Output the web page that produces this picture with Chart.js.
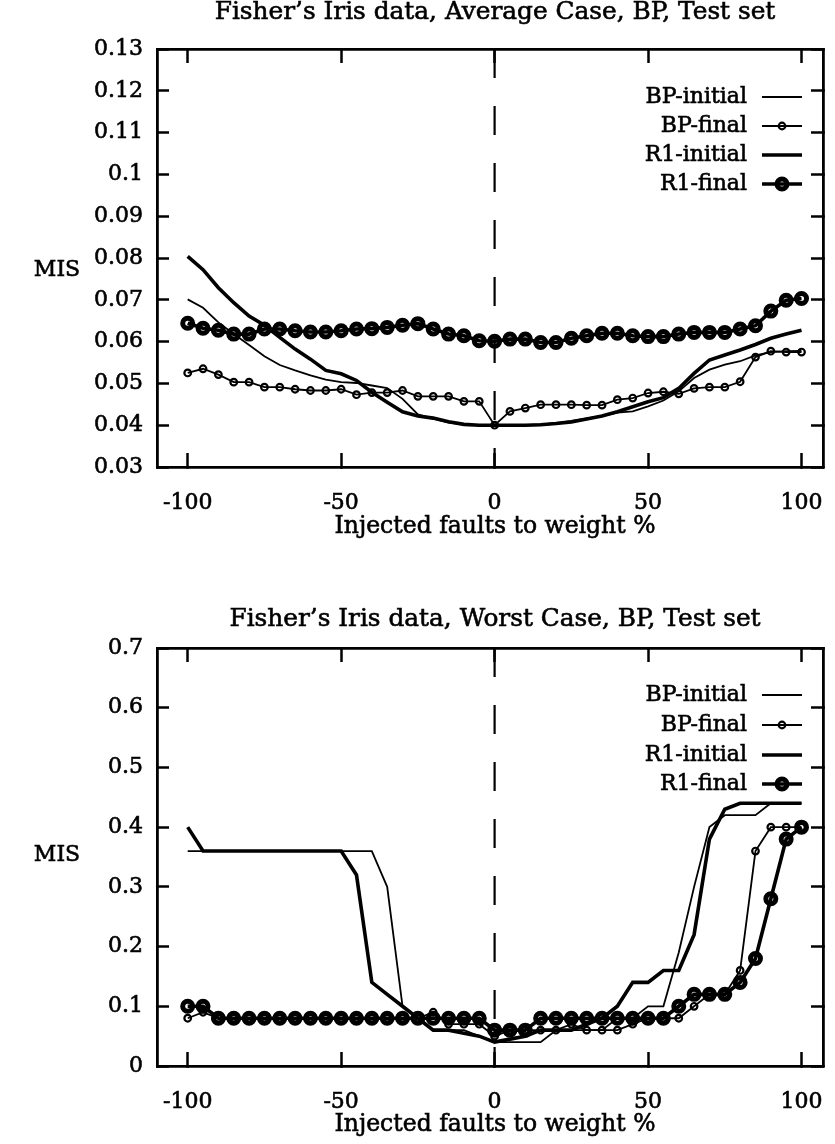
<!DOCTYPE html>
<html><head><meta charset="utf-8">
<script src="https://cdn.jsdelivr.net/npm/chart.js@4.4.1/dist/chart.umd.min.js"></script>
<style>
html,body{margin:0;padding:0;background:#fff;}
#wrap{position:relative;width:835px;height:1144px;overflow:hidden;}
canvas{position:absolute;left:0;}
</style></head><body>
<div id="wrap">
<canvas id="c1" width="835" height="572" style="top:0px"></canvas>
<canvas id="c2" width="835" height="572" style="top:572px"></canvas>
</div>
<script>
// ---------- data ----------
const faults = [-100,-95,-90,-85,-80,-75,-70,-65,-60,-55,-50,-45,-40,-35,-30,-25,-20,-15,-10,-5,0,5,10,15,20,25,30,35,40,45,50,55,60,65,70,75,80,85,90,95,100];
const xTickValues = [-100,-50,0,50,100];
const xTickLabels = ['-100','-50','0','50','100'];
const avgYTickLabels = ['0.03','0.04','0.05','0.06','0.07','0.08','0.09','0.1','0.11','0.12','0.13'];
const worstYTickLabels = ['0','0.1','0.2','0.3','0.4','0.5','0.6','0.7'];
const seriesNames = ['BP-initial','BP-final','R1-initial','R1-final'];
const titles = ["Fisher\u2019s Iris data, Average Case, BP, Test set","Fisher\u2019s Iris data, Worst Case, BP, Test set"];
const xAxisTitle = 'Injected faults to weight %';
const yAxisTitle = 'MIS';

const avgBPinitial = [0.0701,0.0681,0.0646,0.0618,0.0592,0.0565,0.0544,0.0531,0.0519,0.0509,0.0503,0.0501,0.0495,0.0489,0.0463,0.0426,0.0416,0.0406,0.0402,0.0400,0.0400,
  0.0400,0.0400,0.0402,0.0405,0.0410,0.0416,0.0422,0.0430,0.0433,0.0445,0.0459,0.0481,0.0513,0.0533,0.0545,0.0553,0.0567,0.0575,0.0577,0.0578];
const avgBPfinal = [0.0525,0.0535,0.0521,0.0503,0.0503,0.0491,0.0491,0.0486,0.0483,0.0483,0.0486,0.0473,0.0478,0.0478,0.0483,0.0469,0.0469,0.0469,0.0457,0.0457,0.0400,
  0.0433,0.0441,0.0449,0.0449,0.0449,0.0448,0.0448,0.0461,0.0465,0.0477,0.0480,0.0475,0.0488,0.0491,0.0491,0.0504,0.0563,0.0577,0.0575,0.0575];
const avgR1initial = [0.0804,0.0772,0.0729,0.0693,0.0661,0.0639,0.0610,0.0582,0.0558,0.0531,0.0523,0.0507,0.0479,0.0455,0.0432,0.0422,0.0417,0.0408,0.0402,0.0400,0.0400,
  0.0400,0.0400,0.0401,0.0404,0.0408,0.0415,0.0422,0.0432,0.0444,0.0456,0.0466,0.0488,0.0524,0.0556,0.0568,0.0580,0.0593,0.0608,0.0618,0.0627];
const avgR1final = [0.0644,0.0632,0.0627,0.0618,0.0618,0.0630,0.0630,0.0626,0.0623,0.0623,0.0626,0.0630,0.0631,0.0634,0.0639,0.0643,0.0630,0.0618,0.0614,0.0602,0.0601,
  0.0606,0.0606,0.0598,0.0598,0.0608,0.0614,0.0620,0.0620,0.0614,0.0612,0.0612,0.0618,0.0622,0.0622,0.0622,0.0630,0.0638,0.0673,0.0699,0.0703];

const worstBPinitial = [0.36,0.36,0.36,0.36,0.36,0.36,0.36,0.36,0.36,0.36,0.36,0.36,0.36,0.30,0.10,0.08,0.06,0.06,0.06,0.05,0.04,
  0.04,0.04,0.04,0.06,0.06,0.06,0.06,0.08,0.08,0.10,0.10,0.19,0.30,0.40,0.42,0.42,0.42,0.44,0.44,0.44];
const worstBPfinal = [0.08,0.09,0.08,0.08,0.08,0.08,0.08,0.08,0.08,0.08,0.08,0.08,0.08,0.08,0.08,0.08,0.09,0.07,0.07,0.07,0.05,
  0.06,0.06,0.06,0.06,0.07,0.06,0.06,0.06,0.07,0.08,0.08,0.08,0.10,0.12,0.12,0.16,0.36,0.40,0.40,0.40];
const worstR1initial = [0.40,0.36,0.36,0.36,0.36,0.36,0.36,0.36,0.36,0.36,0.36,0.32,0.14,0.12,0.10,0.08,0.06,0.06,0.055,0.05,0.04,
  0.045,0.05,0.06,0.06,0.06,0.07,0.08,0.10,0.14,0.14,0.16,0.16,0.22,0.38,0.43,0.44,0.44,0.44,0.44,0.44];
const worstR1final = [0.10,0.10,0.08,0.08,0.08,0.08,0.08,0.08,0.08,0.08,0.08,0.08,0.08,0.08,0.08,0.08,0.08,0.08,0.08,0.08,0.06,
  0.06,0.06,0.08,0.08,0.08,0.08,0.08,0.08,0.08,0.08,0.08,0.10,0.12,0.12,0.12,0.14,0.18,0.28,0.38,0.40];

// ---------- styling ----------
const FAMILY = '"DejaVu Serif", "Liberation Serif", serif';
const FONT = {family: FAMILY, size: 22};
const fontStr = '22px ' + FAMILY;
const titleFontStr = '24.8px ' + FAMILY;
const axisTitleFontStr = '23.5px ' + FAMILY;
const TEXT_STROKE = 0.6;

const styles = [
  {borderWidth: 1.8, pointRadius: 0},
  {borderWidth: 1.8, pointRadius: 3.3, pointBorderWidth: 2.2},
  {borderWidth: 3.6, pointRadius: 0},
  {borderWidth: 3.6, pointRadius: 5, pointBorderWidth: 5}
];

function txt(ctx, s, x, y) {
  ctx.fillText(s, x, y);
  ctx.lineWidth = TEXT_STROKE;
  ctx.strokeText(s, x, y);
}

const annotPlugin = {
  id: 'annot',
  afterDraw(chart, args, o) {
    const ctx = chart.ctx;
    ctx.save();
    ctx.fillStyle = '#000';
    ctx.strokeStyle = '#000';
    ctx.textBaseline = 'middle';
    ctx.textAlign = 'center';
    ctx.font = titleFontStr;
    txt(ctx, o.title, o.titleX, o.titleY);
    ctx.font = axisTitleFontStr;
    txt(ctx, xAxisTitle, o.titleX, o.xTitleY);
    ctx.font = fontStr;
    txt(ctx, yAxisTitle, o.misX, o.misY);
    const dsList = chart.data.datasets.filter(d => d.inLegend);
    dsList.forEach((d, i) => {
      const y = o.legendY[i];
      ctx.textAlign = 'right';
      txt(ctx, d.label, o.legendTextRight, y);
      ctx.beginPath();
      ctx.lineWidth = d.borderWidth;
      ctx.moveTo(o.legendLine[0], y);
      ctx.lineTo(o.legendLine[1], y);
      ctx.stroke();
      if (d.pointRadius > 0) {
        ctx.beginPath();
        ctx.lineWidth = d.pointBorderWidth;
        ctx.arc(o.legendLine[2], y, d.pointRadius, 0, Math.PI * 2);
        ctx.stroke();
      }
    });
    ctx.restore();
  }
};

function makeChart(id, seriesArrays, yLabels, cfg) {
  const yVals = yLabels.map(Number);
  const yMin = yVals[0], yMax = yVals[yVals.length - 1];
  const datasets = seriesArrays.map((arr, i) => Object.assign({
    label: seriesNames[i],
    inLegend: true,
    data: faults.map((x, k) => ({x: x, y: arr[k]})),
    borderColor: '#000',
    pointBorderColor: '#000',
    pointBackgroundColor: 'rgba(0,0,0,0)',
    tension: 0,
    fill: false,
    order: 1
  }, styles[i]));
  datasets.push({
    label: 'zero',
    inLegend: false,
    data: [{x: 0, y: yMax}, {x: 0, y: yMin}],
    borderColor: '#000',
    borderWidth: 2.2,
    borderDash: [29, 28],
    pointRadius: 0,
    order: 2
  });
  const yTickCb = v => {
    const idx = yVals.findIndex(t => Math.abs(t - v) < 1e-9);
    return idx >= 0 ? yLabels[idx] : '';
  };
  const xTickCb = v => {
    const idx = xTickValues.indexOf(v);
    return idx >= 0 ? xTickLabels[idx] : '';
  };
  const zeroPadH = s => { s.paddingLeft = 0; s.paddingRight = 0; };
  const zeroPadV = s => { s.paddingTop = 0; s.paddingBottom = 0; };
  const gridX = {drawOnChartArea: false, tickLength: -14, tickWidth: 2.5, tickColor: '#000'};
  const gridY = {drawOnChartArea: false, tickLength: -12, tickWidth: 2.5, tickColor: '#000'};
  const border = {display: true, color: '#000', width: 2.8};
  const tickText = {font: FONT, color: '#000', textStrokeColor: '#000', textStrokeWidth: TEXT_STROKE, autoSkip: false};
  return new Chart(document.getElementById(id), {
    type: 'line',
    data: {datasets},
    plugins: [annotPlugin],
    options: {
      responsive: false,
      animation: false,
      devicePixelRatio: 1,
      layout: {padding: {top: cfg.areaTop, right: 835 - cfg.areaRight, left: 0, bottom: 0}},
      plugins: {
        legend: {display: false},
        tooltip: {enabled: false},
        annot: cfg.annot
      },
      scales: {
        x: {
          type: 'linear', position: 'bottom', min: -110, max: 107,
          afterBuildTicks: s => { s.ticks = xTickValues.map(v => ({value: v})); },
          afterFit: s => { s.height = 572 - cfg.areaBottom; zeroPadH(s); },
          ticks: Object.assign({callback: xTickCb, padding: 37, maxRotation: 0}, tickText),
          grid: gridX, border
        },
        x2: {
          type: 'linear', position: 'top', min: -110, max: 107,
          afterBuildTicks: s => { s.ticks = xTickValues.map(v => ({value: v})); },
          afterFit: s => { s.height = 0; zeroPadH(s); },
          ticks: {display: false},
          grid: gridX, border
        },
        y: {
          type: 'linear', position: 'left', min: yMin, max: yMax,
          afterBuildTicks: s => { s.ticks = yVals.map(v => ({value: v})); },
          afterFit: s => { s.width = cfg.areaLeft; zeroPadV(s); },
          ticks: Object.assign({callback: yTickCb, padding: 26}, tickText),
          grid: gridY, border
        },
        y2: {
          type: 'linear', position: 'right', min: yMin, max: yMax,
          afterBuildTicks: s => { s.ticks = yVals.map(v => ({value: v})); },
          afterFit: s => { s.width = 0; zeroPadV(s); },
          ticks: {display: false},
          grid: gridY, border
        }
      }
    }
  });
}

makeChart('c1', [avgBPinitial, avgBPfinal, avgR1initial, avgR1final], avgYTickLabels, {
  areaTop: 49, areaBottom: 467, areaLeft: 157, areaRight: 823,
  annot: {title: titles[0], titleX: 495, titleY: 13, xTitleY: 527, misX: 57, misY: 270,
          legendTextRight: 747, legendLine: [762, 802, 782], legendY: [97, 126, 155, 184]}
});
makeChart('c2', [worstBPinitial, worstBPfinal, worstR1initial, worstR1final], worstYTickLabels, {
  areaTop: 76, areaBottom: 494, areaLeft: 157, areaRight: 823,
  annot: {title: titles[1], titleX: 495, titleY: 48, xTitleY: 553, misX: 57, misY: 283,
          legendTextRight: 747, legendLine: [762, 802, 782], legendY: [123, 153, 183, 212]}
});
</script>
</body></html>
